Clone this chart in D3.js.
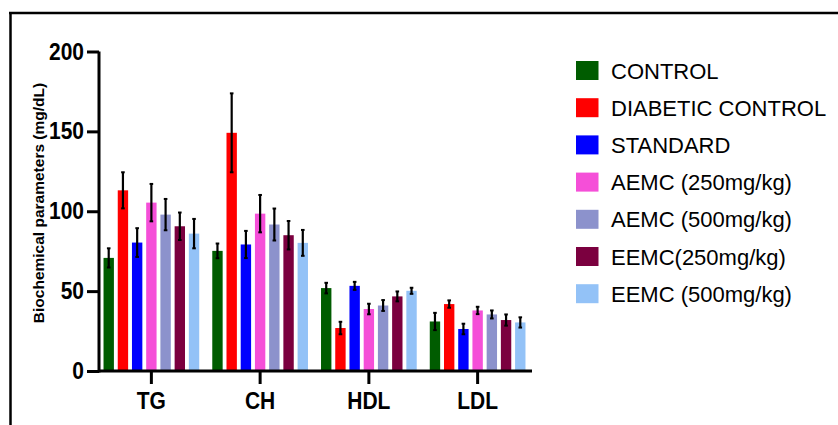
<!DOCTYPE html>
<html>
<head>
<meta charset="utf-8">
<script src="https://cdn.jsdelivr.net/npm/d3@7"></script>
<style>
  html, body { margin: 0; padding: 0; background: #fff; }
  svg { display: block; font-family: "Liberation Sans", Arial, sans-serif; }
</style>
</head>
<body>
<svg id="chart" width="838" height="425"></svg>
<script>
const categories = ["TG", "CH", "HDL", "LDL"];
const seriesNames = ["CONTROL", "DIABETIC CONTROL", "STANDARD", "AEMC (250mg/kg)", "AEMC (500mg/kg)", "EEMC(250mg/kg)", "EEMC (500mg/kg)"];
const seriesColors = ["#005c00", "#ff0000", "#0000ff", "#f54fd8", "#8c92cc", "#7b003f", "#93c2f7"];
// values per series, in order TG, CH, HDL, LDL
const control      = [70.8, 75.2, 51.9, 31.0];
const diabetic     = [113.1, 149.1, 26.9, 41.9];
const standard     = [80.4, 79.2, 53.3, 26.3];
const aemc250      = [105.4, 98.5, 38.8, 37.9];
const aemc500      = [97.9, 91.7, 41.0, 35.4];
const eemc250      = [90.6, 85.0, 46.7, 31.9];
const eemc500      = [86.0, 80.2, 50.2, 30.4];
// standard errors
const controlErr   = [6.0, 4.6, 3.3, 5.4];
const diabeticErr  = [11.3, 24.7, 3.9, 2.3];
const standardErr  = [9.0, 8.5, 2.5, 3.3];
const aemc250Err   = [11.7, 11.7, 3.3, 2.3];
const aemc500Err   = [9.8, 10.0, 3.4, 2.5];
const eemc250Err   = [8.6, 8.9, 3.1, 3.5];
const eemc500Err   = [9.2, 8.1, 1.9, 3.2];
const yTicks = [0, 50, 100, 150, 200];
const yTitle = "Biochemical parameters (mg/dL)";

const values = [control, diabetic, standard, aemc250, aemc500, eemc250, eemc500];
const errors = [controlErr, diabeticErr, standardErr, aemc250Err, aemc500Err, eemc250Err, eemc500Err];

const svg = d3.select("#chart");

// frame lines
svg.append("line").attr("x1", 9).attr("x2", 838).attr("y1", 13).attr("y2", 13)
  .attr("stroke", "#000").attr("stroke-width", 2.5);
svg.append("line").attr("x1", 10.5).attr("x2", 10.5).attr("y1", 12).attr("y2", 425)
  .attr("stroke", "#000").attr("stroke-width", 2.5);

const x0 = d3.scaleBand().domain(categories).range([97, 532]).paddingInner(0.12).paddingOuter(0.06);
const x1 = d3.scaleBand().domain(seriesNames).range([0, x0.bandwidth()]).paddingInner(0.27).paddingOuter(0);
const y = d3.scaleLinear().domain([0, 200]).range([371, 51.5]);

const data = [];
categories.forEach((c, ci) => {
  seriesNames.forEach((s, si) => {
    data.push({cat: c, ser: s, v: values[si][ci], e: errors[si][ci], color: seriesColors[si]});
  });
});

const g = svg.append("g");
g.selectAll("rect.bar").data(data).enter().append("rect")
  .attr("class", "bar")
  .attr("x", d => x0(d.cat) + x1(d.ser))
  .attr("width", x1.bandwidth())
  .attr("y", d => y(d.v))
  .attr("height", d => y(0) - y(d.v))
  .attr("fill", d => d.color);

// error bars
const eb = g.selectAll("g.err").data(data).enter().append("g").attr("class", "err");
eb.append("line")
  .attr("x1", d => x0(d.cat) + x1(d.ser) + x1.bandwidth() / 2)
  .attr("x2", d => x0(d.cat) + x1(d.ser) + x1.bandwidth() / 2)
  .attr("y1", d => y(d.v + d.e))
  .attr("y2", d => y(d.v - d.e))
  .attr("stroke", "#000").attr("stroke-width", 2.2);
[1, -1].forEach(sign => {
  eb.append("line")
    .attr("x1", d => x0(d.cat) + x1(d.ser) + x1.bandwidth() / 2 - 1.8)
    .attr("x2", d => x0(d.cat) + x1(d.ser) + x1.bandwidth() / 2 + 1.8)
    .attr("y1", d => y(d.v + sign * d.e))
    .attr("y2", d => y(d.v + sign * d.e))
    .attr("stroke", "#000").attr("stroke-width", 2);
});

// y axis
const yAxis = svg.append("g").attr("transform", "translate(99,0)")
  .call(d3.axisLeft(y).tickValues(yTicks).tickSize(12).tickPadding(3).tickSizeOuter(0));
yAxis.select(".domain").attr("stroke-width", 3).attr("d", "M0," + (y(0) + 1.5) + "V" + y(200));
yAxis.selectAll(".tick line").attr("stroke-width", 3);
yAxis.selectAll(".tick text").attr("font-size", 21).attr("font-weight", "bold")
  .attr("font-family", "Liberation Sans, Arial, sans-serif").attr("fill", "#000")
  .attr("transform", "scale(1,1.12)");

// x axis
const xAxis = svg.append("g").attr("transform", "translate(0,371)")
  .call(d3.axisBottom(x0).tickSize(13).tickPadding(6).tickSizeOuter(0));
xAxis.select(".domain").attr("stroke-width", 3).attr("d", "M98,0H532");
xAxis.selectAll(".tick line").attr("stroke-width", 3);
xAxis.selectAll(".tick text").attr("font-size", 21).attr("font-weight", "bold")
  .attr("font-family", "Liberation Sans, Arial, sans-serif").attr("fill", "#000")
  .attr("transform", "scale(1,1.13)");

// y title
svg.append("text")
  .attr("transform", "translate(44,203) rotate(-90)")
  .attr("text-anchor", "middle")
  .attr("font-size", 15.5).attr("font-weight", "bold")
  .text(yTitle);

// legend
const leg = svg.append("g");
seriesNames.forEach((s, i) => {
  const yy = 61 + i * 37.2;
  leg.append("rect").attr("x", 576).attr("y", yy).attr("width", 22.5).attr("height", 19)
    .attr("fill", seriesColors[i]);
  leg.append("text").attr("x", 611).attr("y", yy + 17.5)
    .attr("font-size", 22).attr("fill", "#000").text(s);
});
</script>
</body>
</html>
